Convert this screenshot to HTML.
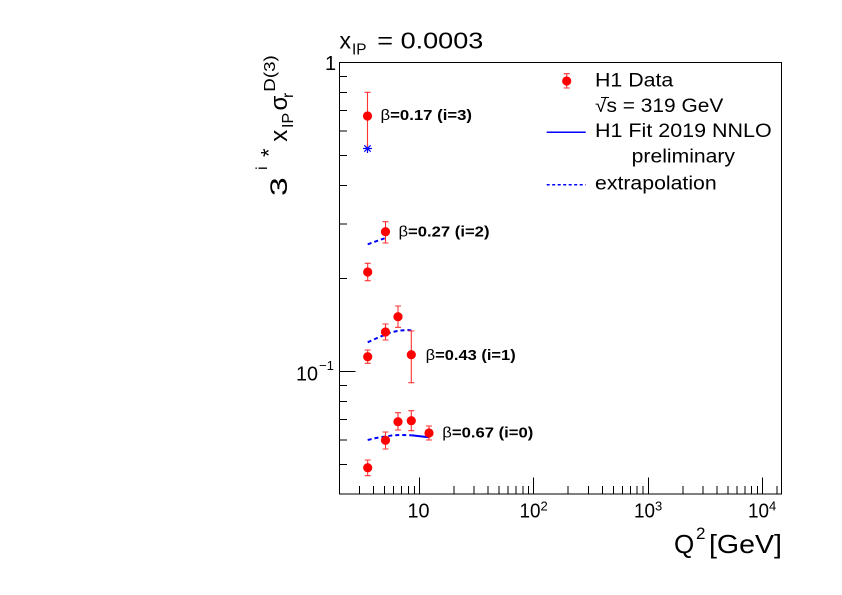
<!DOCTYPE html>
<html><head><meta charset="utf-8"><style>
html,body{margin:0;padding:0;background:#fff;}
svg{display:block;}
text{font-family:"Liberation Sans",Arial,sans-serif;fill:#000;}
</style></head><body>
<svg width="842" height="595" viewBox="0 0 842 595" xmlns="http://www.w3.org/2000/svg">
<rect x="0" y="0" width="842" height="595" fill="#fff"/>
<!-- frame -->
<rect x="339.5" y="62.5" width="442" height="431.5" fill="none" stroke="#000" stroke-width="1"/>
<!-- y ticks -->
<g stroke="#000" stroke-width="1">
<line x1="339.5" y1="371.5" x2="355.5" y2="371.5"/>
<line x1="339.5" y1="76.5" x2="347" y2="76.5"/>
<line x1="339.5" y1="92.5" x2="347" y2="92.5"/>
<line x1="339.5" y1="110.5" x2="347" y2="110.5"/>
<line x1="339.5" y1="131" x2="347" y2="131"/>
<line x1="339.5" y1="155.5" x2="347" y2="155.5"/>
<line x1="339.5" y1="185.5" x2="347" y2="185.5"/>
<line x1="339.5" y1="224" x2="347" y2="224"/>
<line x1="339.5" y1="278.5" x2="347" y2="278.5"/>
<line x1="339.5" y1="385.5" x2="347" y2="385.5"/>
<line x1="339.5" y1="401.5" x2="347" y2="401.5"/>
<line x1="339.5" y1="419.5" x2="347" y2="419.5"/>
<line x1="339.5" y1="440" x2="347" y2="440"/>
<line x1="339.5" y1="464.5" x2="347" y2="464.5"/>
</g>
<!-- x ticks -->
<g stroke="#000" stroke-width="1">
<line x1="419.5" y1="494" x2="419.5" y2="477.5"/>
<line x1="533.5" y1="494" x2="533.5" y2="477.5"/>
<line x1="648.5" y1="494" x2="648.5" y2="477.5"/>
<line x1="762.5" y1="494" x2="762.5" y2="477.5"/>
<line x1="359.5" y1="494" x2="359.5" y2="486"/><line x1="373.5" y1="494" x2="373.5" y2="486"/><line x1="384.5" y1="494" x2="384.5" y2="486"/><line x1="393.5" y1="494" x2="393.5" y2="486"/><line x1="401.5" y1="494" x2="401.5" y2="486"/><line x1="408.5" y1="494" x2="408.5" y2="486"/><line x1="414.5" y1="494" x2="414.5" y2="486"/>
<line x1="454" y1="494" x2="454" y2="486"/><line x1="474" y1="494" x2="474" y2="486"/><line x1="488" y1="494" x2="488" y2="486"/><line x1="499" y1="494" x2="499" y2="486"/><line x1="508" y1="494" x2="508" y2="486"/><line x1="516" y1="494" x2="516" y2="486"/><line x1="523" y1="494" x2="523" y2="486"/><line x1="528.5" y1="494" x2="528.5" y2="486"/>
<line x1="568" y1="494" x2="568" y2="486"/><line x1="588.5" y1="494" x2="588.5" y2="486"/><line x1="602.5" y1="494" x2="602.5" y2="486"/><line x1="613.5" y1="494" x2="613.5" y2="486"/><line x1="622.5" y1="494" x2="622.5" y2="486"/><line x1="630.5" y1="494" x2="630.5" y2="486"/><line x1="637" y1="494" x2="637" y2="486"/><line x1="643" y1="494" x2="643" y2="486"/>
<line x1="683" y1="494" x2="683" y2="486"/><line x1="703" y1="494" x2="703" y2="486"/><line x1="717" y1="494" x2="717" y2="486"/><line x1="728" y1="494" x2="728" y2="486"/><line x1="737" y1="494" x2="737" y2="486"/><line x1="745" y1="494" x2="745" y2="486"/><line x1="751.5" y1="494" x2="751.5" y2="486"/><line x1="757.5" y1="494" x2="757.5" y2="486"/>
<line x1="777" y1="494" x2="777" y2="486"/>
</g>
<!-- tick labels -->
<text x="325" y="70" font-size="20">1</text>
<text x="296" y="380.5" font-size="20" textLength="22" lengthAdjust="spacingAndGlyphs">10</text>
<text x="319" y="370" font-size="13" textLength="15" lengthAdjust="spacingAndGlyphs">−1</text>
<text x="407.5" y="517.5" font-size="20" textLength="22" lengthAdjust="spacingAndGlyphs">10</text>
<text x="519.5" y="517.5" font-size="20" textLength="21" lengthAdjust="spacingAndGlyphs">10</text>
<text x="540.5" y="510.5" font-size="13">2</text>
<text x="634" y="517.5" font-size="20" textLength="21" lengthAdjust="spacingAndGlyphs">10</text>
<text x="655" y="510.5" font-size="13">3</text>
<text x="748" y="517.5" font-size="20" textLength="21" lengthAdjust="spacingAndGlyphs">10</text>
<text x="769" y="510.5" font-size="13">4</text>
<!-- x axis title -->
<text x="674" y="553" font-size="26">Q</text>
<text x="696" y="539" font-size="17">2</text>
<text x="709" y="553" font-size="26" textLength="73" lengthAdjust="spacingAndGlyphs">[GeV]</text>
<!-- title -->
<text x="339.5" y="48.5" font-size="23">x</text>
<text x="352" y="54.5" font-size="16" textLength="14.5" lengthAdjust="spacingAndGlyphs">IP</text>
<text x="377.3" y="48.5" font-size="23" textLength="106" lengthAdjust="spacingAndGlyphs">= 0.0003</text>
<!-- y axis title (rotated) -->
<g transform="translate(287,196) rotate(-90)">
<text transform="scale(1.4,1)" x="0" y="0" font-size="24">3</text>
<text x="26" y="-20" font-size="16">i</text>
<text x="39" y="-10.5" font-size="22">*</text>
<text x="54.3" y="0" font-size="24">x</text>
<text x="68" y="6" font-size="16">IP</text>
<text x="85.5" y="0" font-size="24">σ</text>
<text x="98" y="6" font-size="16">r</text>
<text x="104.3" y="-12" font-size="16" textLength="36.5" lengthAdjust="spacingAndGlyphs">D(3)</text>
</g>
<!-- curves -->
<g fill="none" stroke="#0000ff" stroke-width="2">
<polyline stroke-dasharray="4,3" points="367.7,244.3 376,241.3 385.5,238"/>
<polyline stroke-dasharray="4,3" points="367.7,342.3 376,338.5 385.5,334.5 392,332 400,330.5 408,330 411.3,330.5"/>
<polyline stroke-dasharray="4,3" points="367.7,440 376,438 385.5,436.5 393,435.3 400,435 411.3,435.3"/>
<polyline points="411.3,435.3 420,436.2 429,437.3"/>
</g>
<!-- star -->
<g stroke="#0000ff" stroke-width="1.2">
<line x1="363" y1="148.5" x2="372" y2="148.5"/>
<line x1="367.5" y1="144" x2="367.5" y2="153"/>
<line x1="364.3" y1="145.3" x2="370.7" y2="151.7"/>
<line x1="364.3" y1="151.7" x2="370.7" y2="145.3"/>
</g>
<!-- error bars -->
<g stroke="#ff3333" stroke-width="1.1" fill="none">
<path d="M367.5 92.3V147M364.5 92.3h6"/>
<path d="M367.7 263.3V280.7M364.7 263.3h6M364.7 280.7h6"/>
<path d="M385.5 221.7V243M382.5 221.7h6M382.5 243h6"/>
<path d="M367.7 350V363.3M364.7 350h6M364.7 363.3h6"/>
<path d="M385.5 324V340M382.5 324h6M382.5 340h6"/>
<path d="M398 306V327.3M395 306h6M395 327.3h6"/>
<path d="M411.3 331V382.7M408.3 331h6M408.3 382.7h6"/>
<path d="M367.7 460V475.7M364.7 460h6M364.7 475.7h6"/>
<path d="M385.5 432V449M382.5 432h6M382.5 449h6"/>
<path d="M398 412.7V430M395 412.7h6M395 430h6"/>
<path d="M411.3 410.7V430.7M408.3 410.7h6M408.3 430.7h6"/>
<path d="M429 426V440M426 426h6M426 440h6"/>
</g>
<!-- points -->
<g fill="#ff0000">
<circle cx="367.5" cy="116" r="4.6"/>
<circle cx="367.7" cy="272" r="4.6"/>
<circle cx="385.5" cy="231.7" r="4.6"/>
<circle cx="367.7" cy="356.7" r="4.6"/>
<circle cx="385.5" cy="332" r="4.6"/>
<circle cx="398" cy="316.7" r="4.6"/>
<circle cx="411.3" cy="354.7" r="4.6"/>
<circle cx="367.7" cy="467.7" r="4.6"/>
<circle cx="385.5" cy="440.3" r="4.6"/>
<circle cx="398" cy="421.7" r="4.6"/>
<circle cx="411.3" cy="420.7" r="4.6"/>
<circle cx="429" cy="433" r="4.6"/>
</g>
<!-- beta labels -->
<text x="380.5" y="120" font-size="14.5" textLength="91.5" lengthAdjust="spacingAndGlyphs"><tspan>β</tspan><tspan font-weight="bold">=0.17 (i=3)</tspan></text>
<text x="398.5" y="236.5" font-size="14.5" textLength="91" lengthAdjust="spacingAndGlyphs"><tspan>β</tspan><tspan font-weight="bold">=0.27 (i=2)</tspan></text>
<text x="425.7" y="360" font-size="14.5" textLength="90" lengthAdjust="spacingAndGlyphs"><tspan>β</tspan><tspan font-weight="bold">=0.43 (i=1)</tspan></text>
<text x="442.3" y="437.3" font-size="14.5" textLength="91" lengthAdjust="spacingAndGlyphs"><tspan>β</tspan><tspan font-weight="bold">=0.67 (i=0)</tspan></text>
<!-- legend -->
<g stroke="#ff3333" stroke-width="1.1"><path d="M566.7 73.7V88M563.7 73.7h6M563.7 88h6"/></g>
<circle cx="566.7" cy="81" r="4.6" fill="#ff0000"/>
<text x="595" y="86.3" font-size="19" textLength="78.3" lengthAdjust="spacingAndGlyphs">H1 Data</text>
<text x="595" y="112" font-size="19" textLength="128.3" lengthAdjust="spacingAndGlyphs">√s = 319 GeV</text>
<line x1="601" y1="97.5" x2="609" y2="97.5" stroke="#000" stroke-width="1"/>
<line x1="546.7" y1="132.3" x2="585.7" y2="132.3" stroke="#0000ff" stroke-width="1.5"/>
<text x="595" y="137" font-size="19" textLength="176.7" lengthAdjust="spacingAndGlyphs">H1 Fit 2019 NNLO</text>
<text x="631.7" y="162.5" font-size="19" textLength="103.3" lengthAdjust="spacingAndGlyphs">preliminary</text>
<line x1="546.7" y1="184.7" x2="585.7" y2="184.7" stroke="#0000ff" stroke-width="1.5" stroke-dasharray="3,2.5"/>
<text x="595" y="189.3" font-size="19" textLength="121.7" lengthAdjust="spacingAndGlyphs">extrapolation</text>
</svg>
</body></html>
